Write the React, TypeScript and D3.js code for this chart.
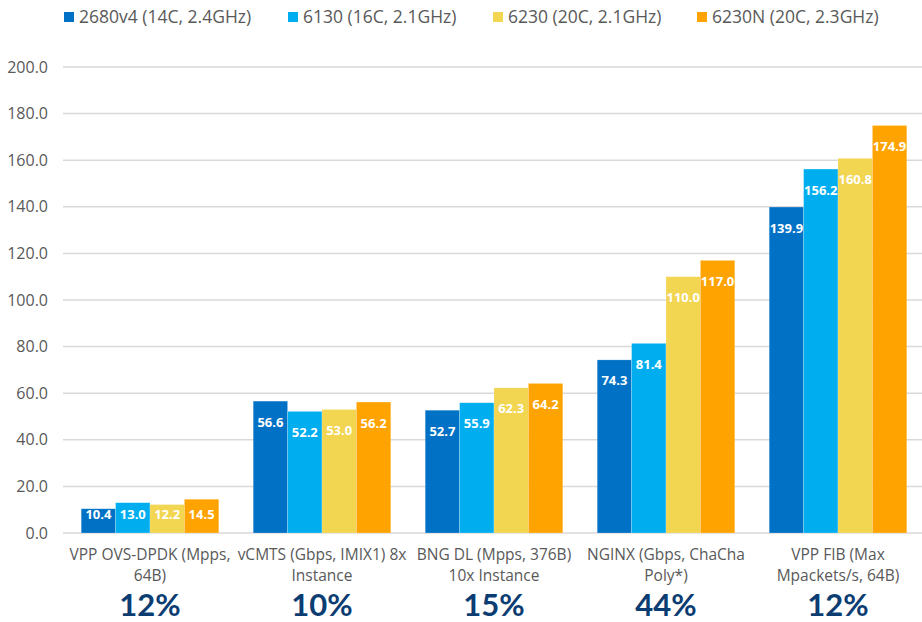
import React, { useEffect, useRef } from 'react';
import * as d3 from 'd3';

const categories = [
  ['VPP OVS-DPDK (Mpps,', '64B)'],
  ['vCMTS (Gbps, IMIX1) 8x', 'Instance'],
  ['BNG DL (Mpps, 376B)', '10x Instance'],
  ['NGINX (Gbps, ChaCha', 'Poly*)'],
  ['VPP FIB (Max', 'Mpackets/s, 64B)'],
];
const gains = ['12%', '10%', '15%', '44%', '12%'];
const seriesNames = [
  '2680v4 (14C, 2.4GHz)',
  '6130 (16C, 2.1GHz)',
  '6230 (20C, 2.1GHz)',
  '6230N (20C, 2.3GHz)',
];
const s2680v4 = [10.4, 56.6, 52.7, 74.3, 139.9];
const s6130 = [13.0, 52.2, 55.9, 81.4, 156.2];
const s6230 = [12.2, 53.0, 62.3, 110.0, 160.8];
const s6230N = [14.5, 56.2, 64.2, 117.0, 174.9];
const yTicks = [0, 20, 40, 60, 80, 100, 120, 140, 160, 180, 200];

const colors = ['#0071C5', '#00AEEF', '#F2D550', '#FFA300'];
const legendX = [64, 288, 493, 697];

const App = () => {
  const ref = useRef<SVGGElement>(null);
  const width = 922;
  const height = 622;

  useEffect(() => {
    const g = d3.select(ref.current);
    g.selectAll('*').remove();
    const font = '"Open Sans", "Noto Sans", sans-serif';
    const series = [s2680v4, s6130, s6230, s6230N];

    const x = d3
      .scaleBand<number>()
      .domain(d3.range(categories.length))
      .range([64, 924])
      .padding(0);
    const inner = x.bandwidth() * 0.8;
    const xs = d3
      .scaleBand<number>()
      .domain(d3.range(series.length))
      .range([0, inner]);
    const y = d3.scaleLinear().domain([0, 200]).range([533, 67]);

    // gridlines
    g.selectAll('.grid')
      .data(yTicks)
      .join('line')
      .attr('class', 'grid')
      .attr('x1', 63)
      .attr('x2', 922)
      .attr('y1', (d) => y(d))
      .attr('y2', (d) => y(d))
      .attr('stroke', '#d9d9d9')
      .attr('stroke-width', 1.5);

    g.selectAll('.ytick')
      .data(yTicks)
      .join('text')
      .attr('class', 'ytick')
      .attr('x', 48)
      .attr('y', (d) => y(d))
      .attr('dy', '0.35em')
      .attr('text-anchor', 'end')
      .attr('font-family', font)
      .attr('font-size', 16)
      .attr('fill', '#595959')
      .text((d) => d.toFixed(1));

    // bars
    series.forEach((vals, si) => {
      const bx = (i: number) => x(i)! + (x.bandwidth() - inner) / 2 + xs(si)!;
      g.selectAll(`.bar${si}`)
        .data(vals)
        .join('rect')
        .attr('class', `bar${si}`)
        .attr('x', (d, i) => bx(i))
        .attr('y', (d) => y(d))
        .attr('width', xs.bandwidth())
        .attr('height', (d) => y(0) - y(d))
        .attr('fill', colors[si])
        .attr('stroke', '#ffffff')
        .attr('stroke-opacity', 0.35)
        .attr('stroke-width', 0.6);

      g.selectAll(`.lbl${si}`)
        .data(vals)
        .join('text')
        .attr('class', `lbl${si}`)
        .attr('x', (d, i) => bx(i) + xs.bandwidth() / 2)
        .attr('y', (d) => Math.min(y(d) + 21, y(0) - 19))
        .attr('dy', '0.35em')
        .attr('text-anchor', 'middle')
        .attr('font-family', font)
        .attr('font-size', 13)
        .attr('font-weight', 'bold')
        .attr('fill', '#ffffff')
        .text((d) => d.toFixed(1));
    });

    // category labels
    categories.forEach((lines, i) => {
      const cx = x(i)! + x.bandwidth() / 2;
      lines.forEach((line, li) => {
        g.append('text')
          .attr('x', cx)
          .attr('y', 555 + li * 21)
          .attr('dy', '0.35em')
          .attr('text-anchor', 'middle')
          .attr('font-family', font)
          .attr('font-size', 15.5)
          .attr('fill', '#595959')
          .text(line);
      });
      g.append('text')
        .attr('x', cx)
        .attr('y', 616)
        .attr('text-anchor', 'middle')
        .attr('font-family', 'Lato, "Open Sans", sans-serif')
        .attr('font-size', 31)
        .attr('font-weight', 'bold')
        .attr('fill', '#0B3D73')
        .text(gains[i]);
    });

    // legend
    const leg = g
      .selectAll('.leg')
      .data(seriesNames)
      .join('g')
      .attr('class', 'leg')
      .attr('transform', (d, i) => `translate(${legendX[i]}, 17)`);
    leg
      .append('rect')
      .attr('x', 0)
      .attr('y', -5)
      .attr('width', 10)
      .attr('height', 10)
      .attr('fill', (d, i) => colors[i]);
    leg
      .append('text')
      .attr('x', 15)
      .attr('y', 0)
      .attr('dy', '0.35em')
      .attr('font-family', font)
      .attr('font-size', 17.5)
      .attr('fill', '#595959')
      .text((d) => d);
  }, []);

  return (
    <svg
      width={width}
      height={height}
      style={{ position: 'absolute', left: 0, top: 0, background: '#fff' }}
    >
      <g ref={ref} />
    </svg>
  );
};

export default App;
